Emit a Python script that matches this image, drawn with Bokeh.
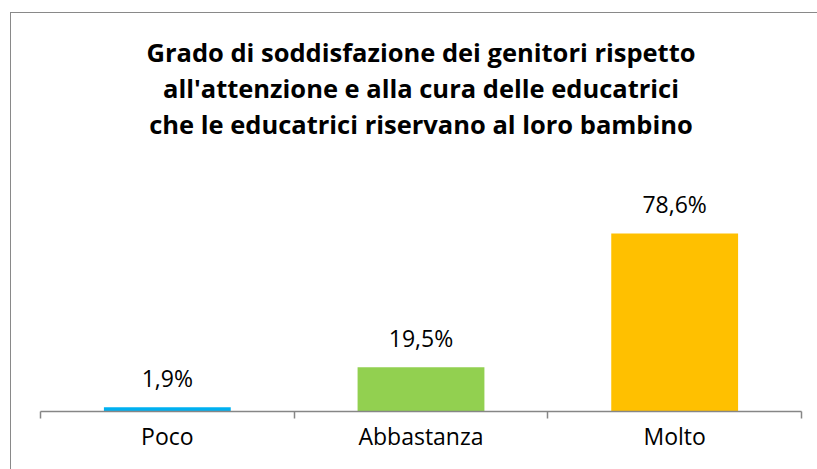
from bokeh.plotting import figure
from bokeh.models import ColumnDataSource, FixedTicker, Range1d, Title
from bokeh.core.properties import value
from bokeh.embed import file_html
from bokeh.resources import INLINE

categories = ["Poco", "Abbastanza", "Molto"]
values = [1.9, 19.5, 78.6]
colors = ["#00B0F0", "#92D050", "#FFC000"]
title_lines = [
    "Grado di soddisfazione dei genitori rispetto",
    "all'attenzione e alla cura delle educatrici",
    "che le educatrici riservano al loro bambino",
]

FONT = "Open Sans"

xpos = [i + 0.5 for i in range(len(categories))]
labels = [("%.1f" % v).replace(".", ",") + "%" for v in values]

src = ColumnDataSource(dict(x=xpos, top=values, color=colors, label=labels))

p = figure(width=817, height=469, output_backend="svg", toolbar_location=None,
           x_range=Range1d(0, len(categories)), y_range=Range1d(0, 119.6),
           min_border_left=40, min_border_right=16, min_border_bottom=58,
           min_border_top=140, title=None)
p.border_fill_color = None
p.background_fill_color = None
line_img = "linear-gradient(#898989, #898989)"
p.styles = {
    "background": (f"{line_img} 10px 12px / 100% 1px no-repeat, "
                   f"{line_img} 10px 12px / 1px 100% no-repeat, #ffffff"),
}

# title lines: added nearest-to-frame first
for line in reversed(title_lines):
    t = Title(text=line, align="center", text_font=FONT, text_font_size="25.5px",
              text_font_style="bold", text_color="#000000", standoff=0)
    p.add_layout(t, "above")

p.vbar(x="x", top="top", width=0.5, color="color", source=src, line_color=None)
p.text(x="x", y="top", text="label", source=src, text_align="center",
       text_baseline="alphabetic", y_offset=-29, text_font=value(FONT),
       text_font_size="23px", text_color="#000000")

p.xgrid.visible = False
p.ygrid.visible = False
p.yaxis.visible = False
p.outline_line_color = None

ax = p.xaxis[0]
ax.ticker = FixedTicker(ticks=xpos, minor_ticks=list(range(len(categories) + 1)))
ax.major_label_overrides = {x: c for x, c in zip(xpos, categories)}
ax.axis_line_color = "#868686"
ax.axis_line_width = 1.5
ax.major_tick_out = 0
ax.major_tick_in = 0
ax.minor_tick_out = 7
ax.minor_tick_in = 0
ax.minor_tick_line_color = "#868686"
ax.minor_tick_line_width = 1.5
ax.major_label_text_font = FONT
ax.major_label_text_font_size = "23px"
ax.major_label_text_color = "#000000"
ax.major_label_standoff = 1

open("out.html", "w").write(file_html(p, INLINE))
